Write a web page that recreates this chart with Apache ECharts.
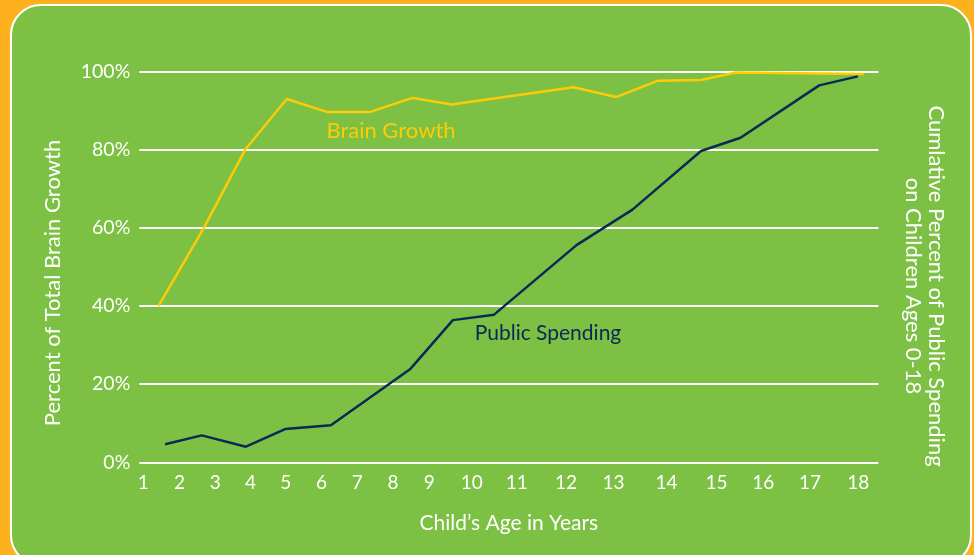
<!DOCTYPE html>
<html>
<head>
<meta charset="utf-8">
<script src="https://cdn.jsdelivr.net/npm/echarts@6/dist/echarts.min.js"></script>
<style>
  html, body { margin: 0; padding: 0; background: #FDB11E; }
  #chart { width: 974px; height: 555px; }
</style>
</head>
<body>
<div id="chart"></div>
<script>
// Axis unit: "drawn age" (label 1 sits at 1, label 18 at 18; labels in between are unevenly spaced in the original)
const tickLabels = ['1','2','3','4','5','6','7','8','9','10','11','12','13','14','15','16','17','18'];
const tickAt = [1.00, 1.86, 2.71, 3.55, 4.39, 5.24, 6.09, 6.94, 7.80, 8.81, 9.88, 11.05, 12.18, 13.44, 14.63, 15.74, 16.85, 18.00];

// Brain Growth (% of total brain growth)
const brainX = [1.36, 2.44, 3.42, 4.41, 5.36, 6.40, 7.40, 8.33, 11.23, 12.24, 13.24, 14.26, 15.09, 18.13];
const brainY = [40, 60, 80, 93.0, 89.7, 89.7, 93.3, 91.6, 96.0, 93.5, 97.7, 97.9, 99.8, 99.4];

// Public Spending (cumulative % of public spending on children 0-18)
const spendX = [1.52, 2.39, 3.44, 4.37, 5.46, 7.34, 8.36, 9.34, 11.30, 12.63, 14.26, 15.20, 17.07, 17.99];
const spendY = [4.6, 6.9, 4.0, 8.5, 9.5, 23.8, 36.4, 37.8, 55.6, 64.7, 79.7, 83.1, 96.5, 98.8];

const yTicks = [0, 20, 40, 60, 80, 100];

const FONT = 'Lato, "Open Sans", sans-serif';
const GREEN = '#7CC143';
const YELLOW = '#FFCB05';
const NAVY = '#0C2857';

const chart = echarts.init(document.getElementById('chart'));

function zip(xs, ys) { return xs.map((x, i) => [x, ys[i]]); }

const option = {
  backgroundColor: '#FDB11E',
  animation: false,
  grid: { left: 139.3, right: 95.7, top: 71.7, bottom: 92.7, containLabel: false },
  graphic: [
    {
      type: 'rect', z: -10, silent: true,
      shape: { x: 11, y: 5, width: 960, height: 560, r: 30 },
      style: { fill: GREEN, stroke: '#FFFFFF', lineWidth: 2 }
    },
    {
      type: 'text', x: 53, y: 283, rotation: Math.PI / 2,
      style: { text: 'Percent of Total Brain Growth', fill: '#FFFFFF', font: '22px ' + FONT,
               align: 'center', verticalAlign: 'middle', textAlign: 'center', textVerticalAlign: 'middle' }
    },
    {
      type: 'text', x: 925, y: 286, rotation: -Math.PI / 2,
      style: { text: 'Cumlative Percent of Public Spending\non Children Ages 0-18', fill: '#FFFFFF',
               font: '22px ' + FONT, lineHeight: 23,
               align: 'center', verticalAlign: 'middle', textAlign: 'center', textVerticalAlign: 'middle' }
    },
    {
      type: 'text', x: 391, y: 131,
      style: { text: 'Brain Growth', fill: YELLOW, font: '22px ' + FONT,
               align: 'center', verticalAlign: 'middle', textAlign: 'center', textVerticalAlign: 'middle' }
    },
    {
      type: 'text', x: 548, y: 333,
      style: { text: 'Public Spending', fill: NAVY, font: '21px ' + FONT,
               align: 'center', verticalAlign: 'middle', textAlign: 'center', textVerticalAlign: 'middle' }
    }
  ],
  xAxis: {
    type: 'value',
    min: 0.905,
    max: 18.475,
    name: 'Child\u2019s Age in Years',
    nameLocation: 'middle',
    nameGap: 50,
    nameTextStyle: { color: '#FFFFFF', fontSize: 21, fontFamily: FONT },
    axisLine: { show: false },
    axisTick: { show: false },
    splitLine: { show: false },
    axisLabel: {
      customValues: tickAt,
      color: '#FFFFFF',
      fontSize: 19,
      fontFamily: FONT,
      margin: 11,
      formatter: function (v) {
        let best = 0, bd = Infinity;
        tickAt.forEach((t, i) => { const d = Math.abs(t - v); if (d < bd) { bd = d; best = i; } });
        return tickLabels[best];
      }
    }
  },
  yAxis: {
    type: 'value',
    min: 0,
    max: 100,
    interval: 20,
    axisLine: { show: false },
    axisTick: { show: false },
    splitLine: { show: true, lineStyle: { color: '#FFFFFF', width: 2 } },
    axisLabel: {
      color: '#FFFFFF', fontSize: 19.5, fontFamily: FONT, margin: 9,
      formatter: function (v) { return yTicks.includes(v) ? v + '%' : ''; }
    }
  },
  series: [
    {
      name: 'Brain Growth', type: 'line', data: zip(brainX, brainY),
      symbol: 'none', lineStyle: { color: YELLOW, width: 2.5 }, z: 3
    },
    {
      name: 'Public Spending', type: 'line', data: zip(spendX, spendY),
      symbol: 'none', lineStyle: { color: NAVY, width: 2.5 }, z: 4
    }
  ]
};

chart.setOption(option);
</script>
</body>
</html>
